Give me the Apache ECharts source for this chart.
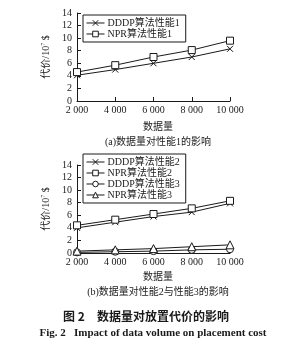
<!DOCTYPE html>
<html><head><meta charset="utf-8">
<script src="https://cdn.jsdelivr.net/npm/echarts@6/dist/echarts.min.js"></script>
<style>html,body{margin:0;padding:0;background:#fff}#c{width:282px;height:342px}</style>
</head><body><div id="c"></div>
<script>
var dataVolume = [2000, 4000, 6000, 8000, 10000];
var dddp1 = [4.1, 5.0, 6.0, 7.0, 8.3];
var npr1  = [4.6, 5.7, 7.0, 8.1, 9.6];
var dddp2 = [4.0, 4.9, 5.8, 6.5, 7.9];
var npr2  = [4.4, 5.3, 6.2, 7.1, 8.3];
var dddp3 = [0.1, 0.2, 0.3, 0.5, 0.6];
var npr3  = [0.3, 0.5, 0.7, 1.0, 1.3];
var seriesNames1 = ['DDDP算法性能1', 'NPR算法性能1'];
var seriesNames2 = ['DDDP算法性能2', 'NPR算法性能2', 'DDDP算法性能3', 'NPR算法性能3'];
var yTicks = {min: 0, max: 14, interval: 2};
var xTicks = {min: 2000, max: 10000, interval: 2000};
var xName = '数据量';
var captionA = '(a)数据量对性能1的影响';
var captionB = '(b)数据量对性能2与性能3的影响';
var figCn = '图 2　数据量对放置代价的影响';
var figEn = 'Fig. 2   Impact of data volume on placement cost';

var FONT = "'Liberation Serif', 'Noto Sans CJK SC', serif";
var INK = '#1a1a1a';
var crossPath = 'path://M0,0L10,10M10,0L0,10';

function pairs(ys){ return dataVolume.map(function(x,i){ return [x, ys[i]]; }); }
function fmtX(v){ var s = String(v); return s.length > 3 ? s.slice(0, s.length-3) + ' ' + s.slice(-3) : s; }

function xAxis(gi){
  return {type:'value', gridIndex:gi, min:xTicks.min, max:xTicks.max, interval:xTicks.interval,
    axisLine:{lineStyle:{color:INK,width:1}}, axisTick:{inside:true,length:4,lineStyle:{color:INK}},
    splitLine:{show:false},
    axisLabel:{color:INK,fontFamily:FONT,fontSize:10,margin:4,formatter:fmtX,showMinLabel:true,showMaxLabel:true}};
}
function yAxis(gi){
  return {type:'value', gridIndex:gi, min:yTicks.min, max:yTicks.max, interval:yTicks.interval,
    axisLine:{show:true,lineStyle:{color:INK,width:1}}, axisTick:{show:true,inside:true,length:4,lineStyle:{color:INK}},
    splitLine:{show:false},
    axisLabel:{color:INK,fontFamily:FONT,fontSize:10,margin:5},
    name:'{a|代价/10}{s|7}{a| $}', nameLocation:'middle', nameGap:19, nameRotate:90,
    nameTextStyle:{rich:{a:{fontFamily:FONT,fontSize:10,color:INK},s:{fontFamily:FONT,fontSize:6,color:INK,verticalAlign:'top',padding:[0,0,5,0]}}}};
}
function mkSeries(name, ys, gi, sym, size){
  return {type:'line', name:name, xAxisIndex:gi, yAxisIndex:gi, data:pairs(ys),
    symbol:sym, symbolSize:size, showAllSymbol:true, color:INK,
    lineStyle:{color:INK,width:1},
    itemStyle:{color:'#fff', borderColor:INK, borderWidth:1},
    emphasis:{disabled:true}, animation:false};
}
function legend(gi, names, top){
  return {data:names, orient:'vertical', left:83, top:top, itemGap:1,
    itemWidth:18, itemHeight:7, padding:[3,6,3,3], borderColor:INK, borderWidth:1,
    itemStyle:{color:'#fff', borderColor:INK, borderWidth:1},
    lineStyle:{color:INK, width:1},
    textStyle:{fontFamily:FONT,fontSize:10,color:INK,padding:[0,0,0,-2]}, selectedMode:false};
}

var chart = echarts.init(document.getElementById('c'), null, {renderer:'canvas'});
chart.setOption({
  backgroundColor:'#fff',
  animation:false,
  grid:[{left:77, top:13, width:153, height:88}, {left:77, top:165, width:153, height:88}],
  xAxis:[xAxis(0), xAxis(1)],
  yAxis:[yAxis(0), yAxis(1)],
  legend:[legend(0, seriesNames1, 15), legend(1, seriesNames2, 154)],
  title:[
    {text:xName, left:153, top:117, textAlign:'center', textStyle:{fontFamily:FONT,fontSize:10,fontWeight:'normal',color:INK}},
    {text:captionA, left:153, top:132, textAlign:'center', textStyle:{fontFamily:FONT,fontSize:10,fontWeight:'normal',color:INK}},
    {text:xName, left:153, top:267, textAlign:'center', textStyle:{fontFamily:FONT,fontSize:10,fontWeight:'normal',color:INK}},
    {text:captionB, left:153, top:282, textAlign:'center', textStyle:{fontFamily:FONT,fontSize:10,fontWeight:'normal',color:INK}},
    {text:figCn, left:141, top:305, textAlign:'center', textStyle:{fontFamily:"'Noto Sans CJK SC', sans-serif",fontSize:12,fontWeight:'bold',color:INK}},
    {text:figEn, left:148, top:323, textAlign:'center', textStyle:{fontFamily:FONT,fontSize:11,fontWeight:'bold',color:INK}}
  ],
  series:[
    mkSeries(seriesNames1[0], dddp1, 0, crossPath, 6),
    mkSeries(seriesNames1[1], npr1, 0, 'rect', 7),
    mkSeries(seriesNames2[0], dddp2, 1, crossPath, 6),
    mkSeries(seriesNames2[1], npr2, 1, 'rect', 7),
    mkSeries(seriesNames2[2], dddp3, 1, 'circle', 7),
    mkSeries(seriesNames2[3], npr3, 1, 'triangle', 8)
  ]
});
</script></body></html>
